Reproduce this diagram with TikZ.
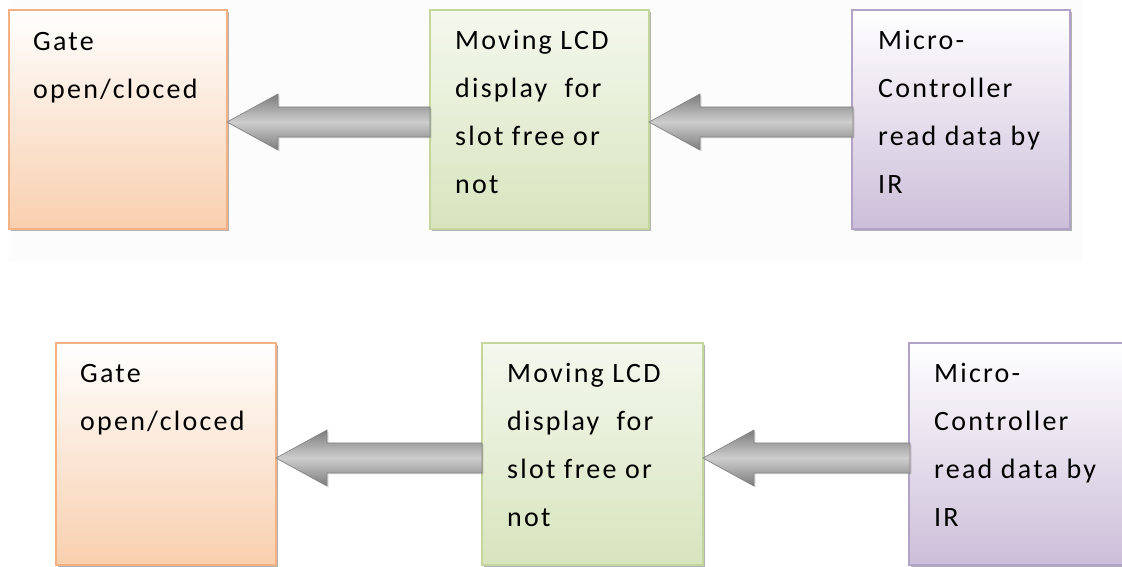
\documentclass[tikz,border=0pt]{standalone}
\usepackage{fontspec}
\setmainfont{Carlito}[LetterSpace=8]
\usetikzlibrary{shadows}
\definecolor{orangeborder}{HTML}{F4B183}
\definecolor{orangefill}{HTML}{F8CFAE}
\definecolor{greenborder}{HTML}{C3D69B}
\definecolor{greenfill}{HTML}{D7E4BD}
\definecolor{greentop}{HTML}{F4F8EE}
\definecolor{purpleborder}{HTML}{B3A2C7}
\definecolor{purplefill}{HTML}{CCBED9}
\definecolor{arrowdark}{HTML}{7C7C7C}
\definecolor{arrowlight}{HTML}{CDCDCD}
\definecolor{panel}{HTML}{FCFCFC}
\tikzset{
  x=1pt, y=1pt,
  blockshadow/.style={fill=black!30, draw=none},
  gatebox/.style={draw=orangeborder, line width=1.2pt, top color=white, bottom color=orangefill},
  lcdbox/.style={draw=greenborder, line width=1.2pt, top color=greentop, bottom color=greenfill},
  mcubox/.style={draw=purpleborder, line width=1.2pt, top color=white, bottom color=purplefill},
  boxtext/.style={anchor=base west, align=left, inner sep=0pt, font=\fontsize{28}{48}\selectfont},
  blockarrow/.style={draw=black!50, line width=0.6pt, top color=arrowdark, bottom color=arrowdark, middle color=arrowlight, drop shadow={shadow xshift=1.5pt, shadow yshift=-1.5pt, opacity=0.25}},
}
% block arrow pointing left: #1 tip x, #2 centre y, #3 tail x
\newcommand{\leftblockarrow}[3]{%
  \path[blockarrow] (#1,#2) -- (#1+51,#2+28) -- (#1+51,#2+15) -- (#3,#2+15)
    -- (#3,#2-15) -- (#1+51,#2-15) -- (#1+51,#2-28) -- cycle;}
\begin{document}
\begin{tikzpicture}
\useasboundingbox (0,0) rectangle (1122,567);
\fill[panel] (9,305) rectangle (1083,567);

% ---------- upper chain ----------
\fill[blockshadow] (11,336) rectangle (229,555);
\fill[blockshadow] (432,336) rectangle (651,555);
\fill[blockshadow] (854,336) rectangle (1072,555);
\path[gatebox] (9,338) rectangle (227,557);
\path[lcdbox] (430,338) rectangle (649,557);
\path[mcubox] (852,338) rectangle (1070,557);
% anchors sit on the baseline of the last line
\node[boxtext] (g1) at (33,468) {Gate\\open/cloced};
\node[boxtext] (l1) at (455,373) {Moving LCD\\display\ \ for\\slot free or\\not};
\node[boxtext] (m1) at (878,373) {Micro-\\Controller\\read data by\\IR};
\leftblockarrow{227}{445}{430}
\leftblockarrow{649}{445}{853}

% ---------- lower chain ----------
\fill[blockshadow] (58,0) rectangle (278,222);
\fill[blockshadow] (484,0) rectangle (705,222);
\fill[blockshadow] (911,0) rectangle (1130,222);
\path[gatebox] (56,2) rectangle (276,224);
\path[lcdbox] (482,2) rectangle (703,224);
\path[mcubox] (909,2) rectangle (1130,224);
\node[boxtext] (g2) at (80,136) {Gate\\open/cloced};
\node[boxtext] (l2) at (507,40) {Moving LCD\\display\ \ for\\slot free or\\not};
\node[boxtext] (m2) at (934,40) {Micro-\\Controller\\read data by\\IR};
\leftblockarrow{276}{109}{482}
\leftblockarrow{703}{109}{910}
\end{tikzpicture}
\end{document}
